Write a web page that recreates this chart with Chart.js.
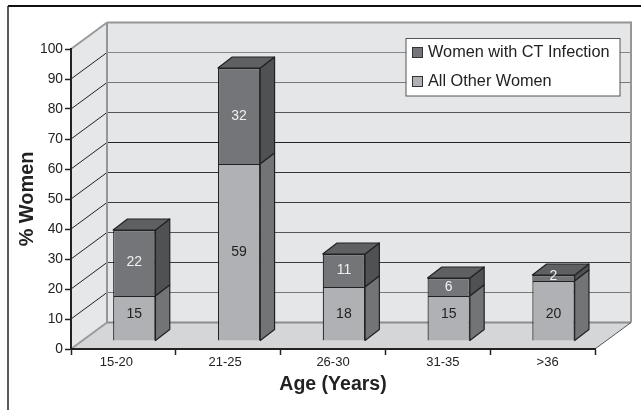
<!DOCTYPE html>
<html>
<head>
<meta charset="utf-8">
<title>Age chart</title>
<script src="https://cdn.jsdelivr.net/npm/chart.js"></script>
<style>
  html, body { margin: 0; padding: 0; background: #fff; overflow: hidden; }
  canvas { display: block; }
</style>
</head>
<body>
<canvas id="ageChart" width="641" height="410"></canvas>
<script>
const ageGroups = ['15-20', '21-25', '26-30', '31-35', '>36'];
const otherWomen = [15, 59, 18, 15, 20];
const ctWomen = [22, 32, 11, 6, 2];
const yTicks = [0, 10, 20, 30, 40, 50, 60, 70, 80, 90, 100];

// the scan has uneven grid line darkness, listed from 0 up to 100
const gridShades = ['#8c8c8c', '#777', '#3a3a3a', '#555', '#3a3a3a', '#333', '#222', '#555', '#777', '#888', '#969696'];
// small nudges for labels which are off-centre in the original
const xLabelNudge = [-7, -3, 0, 5, 5];
const otherLabelNudge = [-4, 0, 0, -4, 3];
const ctLabelNudge = [-1, 0, 0, 0, -2];

const wallDx = 36, wallDy = 26.5;   // depth of the chart box
const barDx = 14.3, barDy = 11;     // depth of a bar
const shiftX = 10.9, shiftY = 8;    // bars stand this far back on the floor

const sideColors = ['#737476', '#505153'];
const topColor = '#5f6062';

function poly(ctx, pts, fill, stroke, width) {
    ctx.beginPath();
    pts.forEach((p, i) => i ? ctx.lineTo(p[0], p[1]) : ctx.moveTo(p[0], p[1]));
    ctx.closePath();
    if (fill) { ctx.fillStyle = fill; ctx.fill(); }
    if (stroke) { ctx.strokeStyle = stroke; ctx.lineWidth = width; ctx.stroke(); }
}

function line(ctx, x1, y1, x2, y2, color, width) {
    ctx.beginPath();
    ctx.moveTo(x1, y1);
    ctx.lineTo(x2, y2);
    ctx.strokeStyle = color;
    ctx.lineWidth = width;
    ctx.stroke();
}

const box3d = {
    id: 'box3d',
    beforeDraw(chart) {
        const ctx = chart.ctx, xs = chart.scales.x, ys = chart.scales.y;
        const l = xs.left, r = xs.right;
        const y0 = ys.getPixelForValue(0), y100 = ys.getPixelForValue(100);
        ctx.save();
        // page frame, open to the right and bottom
        line(ctx, 8, 6, 641, 6, '#111', 2);
        line(ctx, 8, 6, 8, 410, '#222', 1.5);
        // walls and floor
        poly(ctx, [[l, y0], [l, y100], [l + wallDx, y100 - wallDy], [l + wallDx, y0 - wallDy]], '#e6e7e9');
        poly(ctx, [[l + wallDx, y0 - wallDy], [l + wallDx, y100 - wallDy], [r + wallDx, y100 - wallDy], [r + wallDx, y0 - wallDy]], '#e5e6e8');
        poly(ctx, [[l, y0], [l + wallDx, y0 - wallDy], [r + wallDx, y0 - wallDy], [r, y0]], '#d5d6d8');
        yTicks.forEach((v, i) => {
            const y = ys.getPixelForValue(v);
            const edge = v === 0 || v === 100;
            line(ctx, l + wallDx, y - wallDy, r + wallDx, y - wallDy, gridShades[i], edge ? 2 : 1.2);
            line(ctx, l, y, l + wallDx, y - wallDy, edge ? '#9a9a9a' : '#222', edge ? 2 : 1);
        });
        line(ctx, l + wallDx, y100 - wallDy, l + wallDx, y0 - wallDy, '#969696', 2);
        line(ctx, r + wallDx, y100 - wallDy - 1, r + wallDx, y0 - wallDy, '#969696', 2);
        line(ctx, r, y0, r + wallDx, y0 - wallDy, '#555', 1);
        ctx.restore();
    },
    beforeDatasetDraw(chart) {
        chart.ctx.save();
        chart.ctx.translate(shiftX, -shiftY);
    },
    afterDatasetDraw(chart, args) {
        const ctx = chart.ctx;
        ctx.restore();
        ctx.save();
        ctx.lineJoin = 'round';
        args.meta.data.forEach(bar => {
            const p = bar.getProps(['x', 'y', 'base', 'width'], true);
            const right = p.x + p.width / 2 + shiftX;
            const left = p.x - p.width / 2 + shiftX;
            const top = p.y - shiftY, bottom = p.base - shiftY;
            poly(ctx, [[right, top], [right + barDx, top - barDy], [right + barDx, bottom - barDy], [right, bottom]], sideColors[args.index], '#222', 1.2);
            // only the upper segment shows a top face
            if (args.index === 1) {
                poly(ctx, [[left, top], [left + barDx, top - barDy], [right + barDx, top - barDy], [right, top]], topColor, '#222', 1.2);
            }
        });
        ctx.restore();
    },
    afterDatasetsDraw(chart) {
        const ctx = chart.ctx, xs = chart.scales.x;
        ctx.save();
        ctx.textAlign = 'center';
        ctx.textBaseline = 'middle';
        ctx.font = '14px "Liberation Sans"';

        // value labels on the bar fronts
        chart.data.datasets.forEach((ds, d) => {
            chart.getDatasetMeta(d).data.forEach((bar, i) => {
                const p = bar.getProps(['x', 'y', 'base'], true);
                const nudge = (d === 0 ? otherLabelNudge : ctLabelNudge)[i];
                ctx.fillStyle = d === 0 ? '#222' : '#f0f0f0';
                ctx.fillText(ds.data[i], p.x + shiftX, (p.y + p.base) / 2 - shiftY + nudge);
            });
        });

        // category labels
        ctx.font = '13px "Liberation Sans"';
        ctx.fillStyle = '#222';
        ageGroups.forEach((name, i) => {
            ctx.fillText(name, xs.getPixelForTick(i) + xLabelNudge[i], 362);
        });

        // legend
        ctx.fillStyle = '#fff';
        ctx.strokeStyle = '#555';
        ctx.lineWidth = 1;
        ctx.fillRect(406, 38.5, 214, 57.5);
        ctx.strokeRect(406, 38.5, 214, 57.5);
        ctx.textAlign = 'left';
        ctx.font = '16.3px "Liberation Sans"';
        [1, 0].forEach((d, row) => {
            const ds = chart.data.datasets[d];
            const y = 52.5 + row * 29;
            ctx.fillStyle = ds.backgroundColor;
            ctx.fillRect(412.5, y - 5, 10, 10);
            ctx.strokeStyle = '#333';
            ctx.strokeRect(412.5, y - 5, 10, 10);
            ctx.fillStyle = '#222';
            ctx.fillText(ds.label, 428, y);
        });
        ctx.restore();
    }
};

new Chart(document.getElementById('ageChart'), {
    type: 'bar',
    data: {
        labels: ageGroups,
        datasets: [
            { label: 'All Other Women', data: otherWomen, backgroundColor: '#b0b1b4', borderColor: '#222', borderWidth: 1.2, clip: false },
            { label: 'Women with CT Infection', data: ctWomen, backgroundColor: '#747578', borderColor: '#222', borderWidth: 1.2, clip: false }
        ]
    },
    options: {
        responsive: false,
        animation: false,
        devicePixelRatio: 1,
        layout: { padding: { top: 49, right: 46, left: 0, bottom: 0 } },
        categoryPercentage: 0.404,
        barPercentage: 1,
        plugins: { legend: { display: false }, tooltip: { enabled: false } },
        scales: {
            x: {
                stacked: true,
                afterFit: s => { s.height = 61; },
                grid: { drawOnChartArea: false, color: '#222', tickLength: 6, tickWidth: 1.5 },
                border: { color: '#222', width: 2 },
                ticks: { display: false },
                title: {
                    display: true,
                    text: 'Age (Years)',
                    color: '#222',
                    padding: { top: 0, bottom: 13.3 },
                    font: { family: '"Liberation Sans"', size: 19.5, weight: 'bold' }
                }
            },
            y: {
                stacked: true,
                min: 0,
                max: 100,
                afterFit: s => { s.width = 71; },
                afterBuildTicks: s => { s.ticks = yTicks.map(v => ({ value: v })); },
                grid: { drawOnChartArea: false, color: '#222', tickLength: 6, tickWidth: 1.5 },
                border: { color: '#222', width: 2 },
                ticks: {
                    color: '#222',
                    padding: 2,
                    font: { family: '"Liberation Sans"', size: 13.8 }
                },
                title: {
                    display: true,
                    text: '% Women',
                    color: '#222',
                    padding: { top: 16, bottom: 0 },
                    font: { family: '"Liberation Sans"', size: 19.9, weight: 'bold' }
                }
            }
        }
    },
    plugins: [box3d]
});
</script>
</body>
</html>
